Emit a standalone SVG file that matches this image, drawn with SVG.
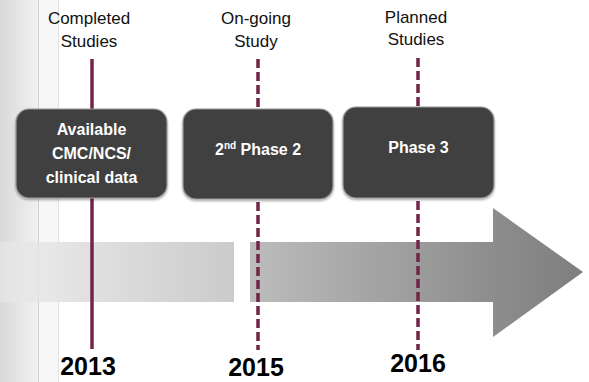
<svg xmlns="http://www.w3.org/2000/svg" width="589" height="382" viewBox="0 0 589 382">
  <defs>
    <linearGradient id="edgeShade" x1="0" y1="0" x2="1" y2="0">
      <stop offset="0" stop-color="#d9d9d9"/>
      <stop offset="1" stop-color="#f1f1f1"/>
    </linearGradient>
    <linearGradient id="pastBar" x1="0" y1="0" x2="1" y2="0">
      <stop offset="0" stop-color="#e9e9e9" stop-opacity="0.6"/>
      <stop offset="0.3" stop-color="#e3e3e3"/>
      <stop offset="1" stop-color="#cbcbcb"/>
    </linearGradient>
    <linearGradient id="futureBar" x1="250" y1="0" x2="583" y2="0" gradientUnits="userSpaceOnUse">
      <stop offset="0" stop-color="#bcbcbc"/>
      <stop offset="0.7" stop-color="#8f8f8f"/>
      <stop offset="1" stop-color="#7e7e7e"/>
    </linearGradient>
    <filter id="boxShadow" x="-10%" y="-10%" width="120%" height="125%">
      <feDropShadow dx="0" dy="1.5" stdDeviation="1.2" flood-color="#000" flood-opacity="0.35"/>
    </filter>
  </defs>
  <style>
    .head { font-family: "Liberation Sans", Arial, sans-serif; font-size: 17px; fill: #111; text-anchor: middle; }
    .year { font-family: "Liberation Sans", Arial, sans-serif; font-size: 25px; font-weight: bold; fill: #000; text-anchor: middle; }
    .box { fill: #3f3f3f; stroke: #9a9a9a; stroke-width: 1.2; filter: url(#boxShadow); }
    .lbl { font-family: "Liberation Sans", Arial, sans-serif; font-size: 16px; font-weight: bold; fill: #fff; text-anchor: middle; }
    .mark { stroke: #722548; stroke-width: 3.5; fill: none; }
    .dash { stroke-dasharray: 9 4; }
  </style>

  <!-- page background and left margin shading -->
  <rect x="0" y="0" width="589" height="382" fill="#ffffff"/>
  <rect x="0" y="0" width="38" height="382" fill="url(#edgeShade)"/>
  <rect x="38" y="0" width="20" height="382" fill="#f7f7f7"/>
  <line x1="38.5" y1="0" x2="38.5" y2="382" stroke="#cfcfcf" stroke-width="1"/>
  <line x1="58.5" y1="0" x2="58.5" y2="382" stroke="#e2e2e2" stroke-width="1"/>

  <!-- timeline arrow -->
  <g id="timeline">
    <rect x="0" y="242" width="234" height="60" fill="url(#pastBar)"/>
    <path d="M250 242 H493 V208 L583 272 L493 337 V302 H250 Z" fill="url(#futureBar)"/>
  </g>

  <!-- milestone markers -->
  <g id="connectors">
    <line class="mark" x1="92" y1="59" x2="92" y2="349"/>
    <line class="mark dash" x1="258" y1="59" x2="258" y2="350"/>
    <line class="mark dash" x1="418" y1="58" x2="418" y2="350"/>
  </g>

  <!-- column headings -->
  <g id="heading-completed">
    <text class="head" x="89" y="24">Completed</text>
    <text class="head" x="89" y="47">Studies</text>
  </g>
  <g id="heading-ongoing">
    <text class="head" x="256" y="24">On-going</text>
    <text class="head" x="256" y="47">Study</text>
  </g>
  <g id="heading-planned">
    <text class="head" x="416" y="23">Planned</text>
    <text class="head" x="416" y="45">Studies</text>
  </g>

  <!-- stage boxes -->
  <g id="box-available">
    <rect class="box" x="16" y="109" width="151" height="89" rx="13"/>
    <text class="lbl" x="91.5" y="135">Available</text>
    <text class="lbl" x="91.5" y="159">CMC/NCS/</text>
    <text class="lbl" x="91.5" y="183">clinical  data</text>
  </g>
  <g id="box-phase2">
    <rect class="box" x="183" y="109" width="150" height="90" rx="13"/>
    <text class="lbl" x="258" y="155">2<tspan font-size="10" dy="-6">nd</tspan><tspan dy="6"> Phase 2</tspan></text>
  </g>
  <g id="box-phase3">
    <rect class="box" x="343" y="107" width="151" height="91" rx="13"/>
    <text class="lbl" x="418.5" y="153">Phase 3</text>
  </g>

  <!-- years -->
  <g id="year-2013"><text class="year" x="88" y="375">2013</text></g>
  <g id="year-2015"><text class="year" x="256" y="376">2015</text></g>
  <g id="year-2016"><text class="year" x="418" y="372">2016</text></g>
</svg>
